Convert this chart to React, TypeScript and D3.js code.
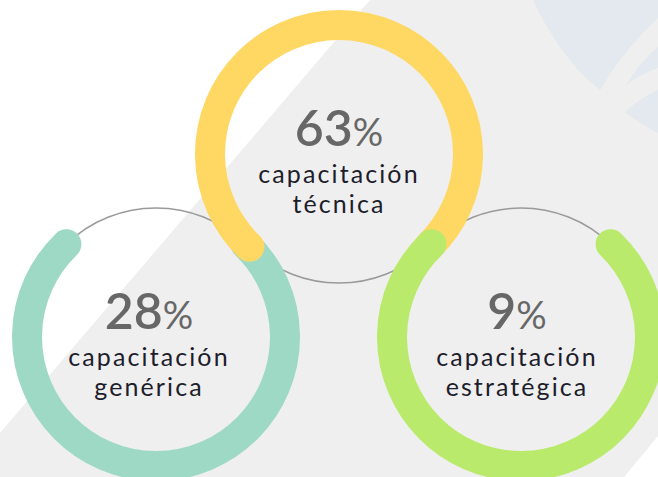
import React, { useEffect, useRef } from "react";
import * as d3 from "d3";

// ---- data ----
const percents = [28, 63, 9];
const labelLine1 = ["capacitación", "capacitación", "capacitación"];
const labelLine2 = ["genérica", "técnica", "estratégica"];
const ringColors = ["#9ed9c6", "#ffd763", "#b9ea6b"];
// direction (degrees, 0 = top, clockwise) of the open gap of each ring
const gapCenters = [0, 180, 0];

// ---- layout ----
const W = 658;
const H = 477;
const R = 129; // ring mid radius
const T = 30; // ring thickness
const GAP = 88; // open gap between cap centres (deg)
const centers: [number, number][] = [
  [156, 337],
  [339, 154],
  [521, 337],
];
const textDx = [-7, 0, -4];

export default function App() {
  const ref = useRef<SVGSVGElement | null>(null);

  useEffect(() => {
    const svg = d3.select(ref.current);
    svg.selectAll("*").remove();

    // background
    svg.append("rect").attr("width", W).attr("height", H).attr("fill", "#ffffff");
    svg
      .append("path")
      .attr("d", "M370,0 L658,0 L658,436 L624,477 L0,477 L0,433 Z")
      .attr("fill", "#efefef");
    const deco = [
      "M533,0 Q560,58 600,90 Q622,52 658,18 L658,0 Z",
      "M626,85 Q640,62 658,47 L658,68 Q640,74 626,85 Z",
      "M625,112 Q640,98 658,90 L658,133 Q640,124 625,112 Z",
    ];
    svg
      .selectAll("path.deco")
      .data(deco)
      .enter()
      .append("path")
      .attr("class", "deco")
      .attr("d", (d) => d)
      .attr("fill", "#e3e9ee");

    const rad = (deg: number) => (deg * Math.PI) / 180;

    // grey tracks
    svg
      .selectAll("circle.track")
      .data(centers)
      .enter()
      .append("circle")
      .attr("class", "track")
      .attr("cx", (d) => d[0])
      .attr("cy", (d) => d[1])
      .attr("r", R)
      .attr("fill", "none")
      .attr("stroke", "#9a9a9a")
      .attr("stroke-width", 1.5);

    // rings
    percents.forEach((_, i) => {
      const [cx, cy] = centers[i];
      const a0 = rad(gapCenters[i] + GAP / 2) - Math.PI / 2;
      const a1 = rad(gapCenters[i] + 360 - GAP / 2) - Math.PI / 2;
      const p = d3.path();
      p.arc(cx, cy, R, a0, a1, false);
      svg
        .append("path")
        .attr("d", p.toString())
        .attr("fill", "none")
        .attr("stroke", ringColors[i])
        .attr("stroke-width", T)
        .attr("stroke-linecap", "round");
    });

    // texts
    percents.forEach((v, i) => {
      const [cx, cy] = centers[i];
      const x = cx + textDx[i];
      const t = svg
        .append("text")
        .attr("x", x)
        .attr("y", cy - 8)
        .attr("text-anchor", "middle")
        .attr("fill", "#676767")
        .attr("font-family", "Lato, sans-serif");
      t.append("tspan").attr("font-size", 50).attr("font-weight", 600).text(String(v));
      t.append("tspan").attr("font-size", 38).attr("font-weight", 400).text("%");

      [labelLine1[i], labelLine2[i]].forEach((s, j) => {
        svg
          .append("text")
          .attr("x", x)
          .attr("y", cy + 29 + j * 30)
          .attr("text-anchor", "middle")
          .attr("fill", "#1d1d2b")
          .attr("font-family", "Lato, sans-serif")
          .attr("font-size", 25)
          .attr("letter-spacing", 2.1)
          .text(s);
      });
    });
  }, []);

  return (
    <div style={{ position: "fixed", left: 0, top: 0 }}>
      <svg ref={ref} width={W} height={H} style={{ display: "block" }} />
    </div>
  );
}
